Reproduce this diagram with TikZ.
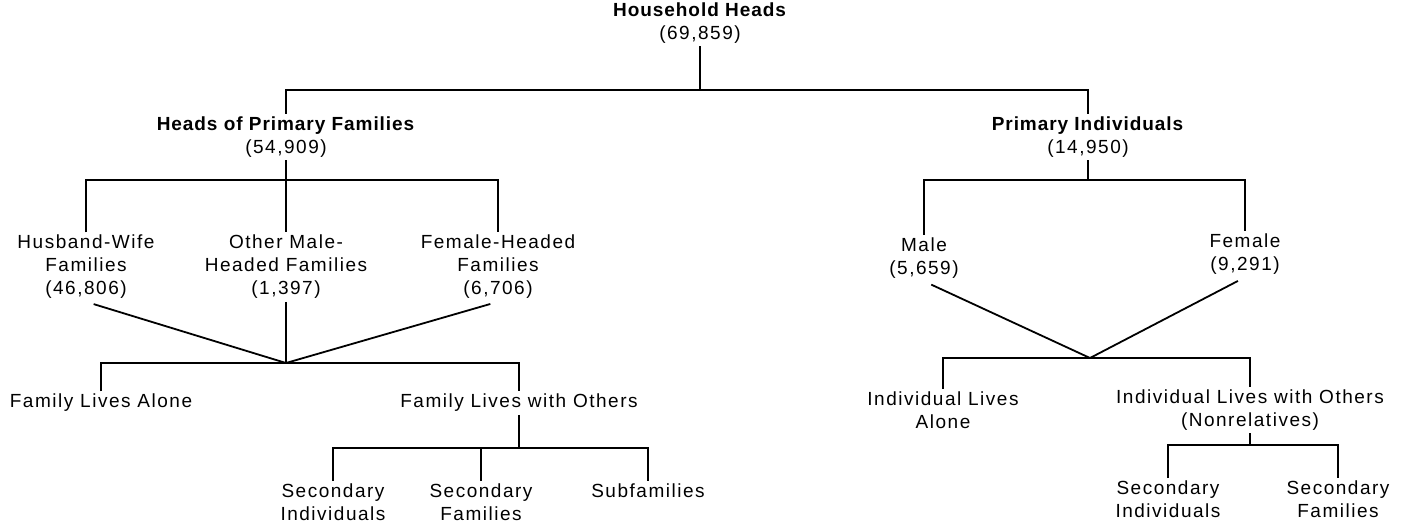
\documentclass[tikz,border=0pt]{standalone}
\usepackage{fontspec}
\setmainfont{Liberation Sans}[LetterSpace=8,BoldFeatures={LetterSpace=5}]
\usetikzlibrary{positioning}

\begin{document}
\begin{tikzpicture}[x=1pt,y=-1pt,line width=1.8pt,
    base node/.style={align=center,inner sep=2pt,font=\fontsize{19}{23}\selectfont},
    top node/.style={base node,anchor=north},
    slant/.style={shorten <=8pt}]
\useasboundingbox (0,0) rectangle (1401,528);

	\node[base node] (hh) at (700,23) {\textbf{Household Heads}\\(69,859)};
	\node[base node] (pf) at (286,137) {\textbf{Heads of Primary Families}\\(54,909)};
	\node[base node] (pi) at (1088,137) {\textbf{Primary Individuals}\\(14,950)};

	\node[base node] (hw) at (86,267) {Husband-Wife\\Families\\(46,806)};
	\node[base node] (om) at (286,267) {Other Male-\\Headed Families\\(1,397)};
	\node[base node] (fh) at (498,267) {Female-Headed\\Families\\(6,706)};
	\node[base node] (ml) at (924,258) {Male\\(5,659)};
	\node[base node] (fm) at (1245,254) {Female\\(9,291)};

	\node[base node] (fla) at (101,403) {Family Lives Alone};
	\node[base node] (flo) at (519,403) {Family Lives with Others};
	\node[base node] (ila) at (943,410) {Individual Lives\\Alone};
	\node[base node] (ilo) at (1250,410) {Individual Lives with Others\\(Nonrelatives)};

	\node[top node] (si1) at (333,481) {Secondary\\Individuals};
	\node[top node] (sf1) at (481,481) {Secondary\\Families};
	\node[top node] (sub) at (648,481) {Subfamilies};
	\node[top node] (si2) at (1168,478) {Secondary\\Individuals};
	\node[top node] (sf2) at (1338,478) {Secondary\\Families};

	\coordinate (j1) at (700,90);
	\coordinate (j2) at (286,180);
	\coordinate (j3) at (286,363);
	\coordinate (j4) at (519,448);
	\coordinate (j5) at (1088,180);
	\coordinate (j6) at (1090,358);
	\coordinate (j7) at (1250,445);

	% household heads
	\draw (hh) -- (j1);
	\draw (pf.north) |- (j1) -| (pi.north);

	% primary families
	\draw (pf) -- (om);
	\draw (hw.north) |- (j2) -| (fh.north);
	\draw[slant] (hw.south) -- (j3);
	\draw[slant] (fh.south) -- (j3);
	\draw (om.south) -- (j3);
	\draw (fla.north) |- (j3) -| (flo.north);
	\draw (flo) -- (j4);
	\draw (si1.north) |- (j4) -| (sub.north);
	\draw (sf1.north) -- (sf1.north |- j4);

	% primary individuals
	\draw (pi) -- (j5);
	\draw (ml.north) |- (j5) -| (fm.north);
	\draw[slant] (ml.south) -- (j6);
	\draw[slant] (fm.south) -- (j6);
	\draw (ila.north) |- (j6) -| (ilo.north);
	\draw (ilo) -- (j7);
	\draw (si2.north) |- (j7) -| (sf2.north);

\end{tikzpicture}
\end{document}
